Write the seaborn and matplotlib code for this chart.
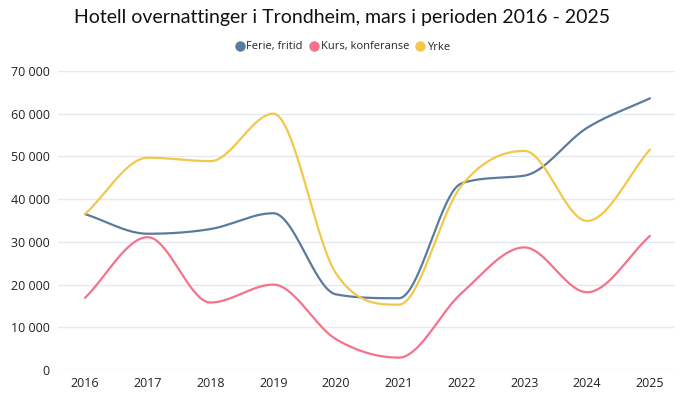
import numpy as np
import pandas as pd
import matplotlib
matplotlib.use("Agg")
import matplotlib.pyplot as plt
from matplotlib.lines import Line2D
from matplotlib.ticker import FuncFormatter
import seaborn as sns

years = ["2016", "2017", "2018", "2019", "2020", "2021", "2022", "2023", "2024", "2025"]
ferie = [36500, 31900, 33000, 36700, 17700, 16800, 43700, 45500, 56700, 63600]
kurs = [16900, 31100, 15800, 20000, 7200, 2900, 18000, 28700, 18200, 31400]
yrke = [36500, 49700, 48900, 60000, 22600, 15300, 43200, 51300, 34900, 51600]
series_names = ["Ferie, fritid", "Kurs, konferanse", "Yrke"]
colors = ["#5b7b9c", "#f5728a", "#f2c84b"]
title = "Hotell overnattinger i Trondheim, mars i perioden 2016 - 2025"


def monotone_curve(y, steps=40):
    """Monotone cubic (Fritsch-Carlson) rendering of a series, as Chart.js draws it."""
    y = np.asarray(y, dtype=float)
    n = len(y)
    x = np.arange(n, dtype=float)
    d = np.diff(y)
    m = np.zeros(n)
    m[0] = d[0]
    m[-1] = d[-1]
    for i in range(1, n - 1):
        m[i] = 0.0 if d[i - 1] * d[i] <= 0 else (d[i - 1] + d[i]) / 2
    for i in range(n - 1):
        if d[i] == 0:
            m[i] = m[i + 1] = 0
            continue
        a = m[i] / d[i]
        b = m[i + 1] / d[i]
        s = a * a + b * b
        if s > 9:
            t = 3 / np.sqrt(s)
            m[i] = t * a * d[i]
            m[i + 1] = t * b * d[i]
    xs, ys = [], []
    for i in range(n - 1):
        t = np.linspace(0, 1, steps, endpoint=(i == n - 2))
        h00 = 2 * t**3 - 3 * t**2 + 1
        h10 = t**3 - 2 * t**2 + t
        h01 = -2 * t**3 + 3 * t**2
        h11 = t**3 - t**2
        xs.append(x[i] + t)
        ys.append(h00 * y[i] + h10 * m[i] + h01 * y[i + 1] + h11 * m[i + 1])
    return np.concatenate(xs), np.concatenate(ys)


frames = []
for name, vals in zip(series_names, [ferie, kurs, yrke]):
    cx, cy = monotone_curve(vals)
    frames.append(pd.DataFrame({"x": cx, "y": cy, "serie": name}))
df = pd.concat(frames, ignore_index=True)

sns.set_theme(style="white")
plt.rcParams["font.family"] = ["Open Sans", "DejaVu Sans"]

fig = plt.figure(figsize=(6.84, 4.03), dpi=100)
ax = fig.add_axes([58 / 684, 1 - 370 / 403, 617 / 684, 299 / 403])

sns.lineplot(data=df, x="x", y="y", hue="serie", palette=colors,
             hue_order=series_names, linewidth=1.6, ax=ax, legend=False,
             sort=False, estimator=None)

ax.set_xlim(-0.43, 9.4)
ax.set_ylim(0, 70000)
ax.set_yticks(np.arange(0, 70001, 10000))
ax.yaxis.set_major_formatter(FuncFormatter(lambda v, p: f"{int(v):,}".replace(",", " ")))
ax.set_xticks(range(len(years)))
ax.set_xticklabels(years)
ax.set_xlabel("")
ax.set_ylabel("")
ax.grid(axis="y", color="#e6e9ee", linewidth=1)
ax.set_axisbelow(True)
for s in ax.spines.values():
    s.set_visible(False)
ax.tick_params(axis="both", length=0, labelsize=9, colors="#222222")
ax.tick_params(axis="y", pad=6)
ax.tick_params(axis="x", pad=5)

fig.text(0.5, 1 - 18 / 403, title, ha="center", va="center", fontsize=14,
         family=["Lato", "DejaVu Sans"], color="#111111")

handles = [Line2D([0], [0], marker="o", linestyle="", markersize=6.5,
                  markerfacecolor=c, markeredgecolor=c) for c in colors]
fig.legend(handles, series_names, loc="center", bbox_to_anchor=(0.5, 1 - 47 / 403),
           ncol=3, frameon=False, fontsize=8, handletextpad=0.1,
           columnspacing=0.5, handlelength=1.0, borderaxespad=0)

fig.savefig("out.png", dpi=100, facecolor="white")
